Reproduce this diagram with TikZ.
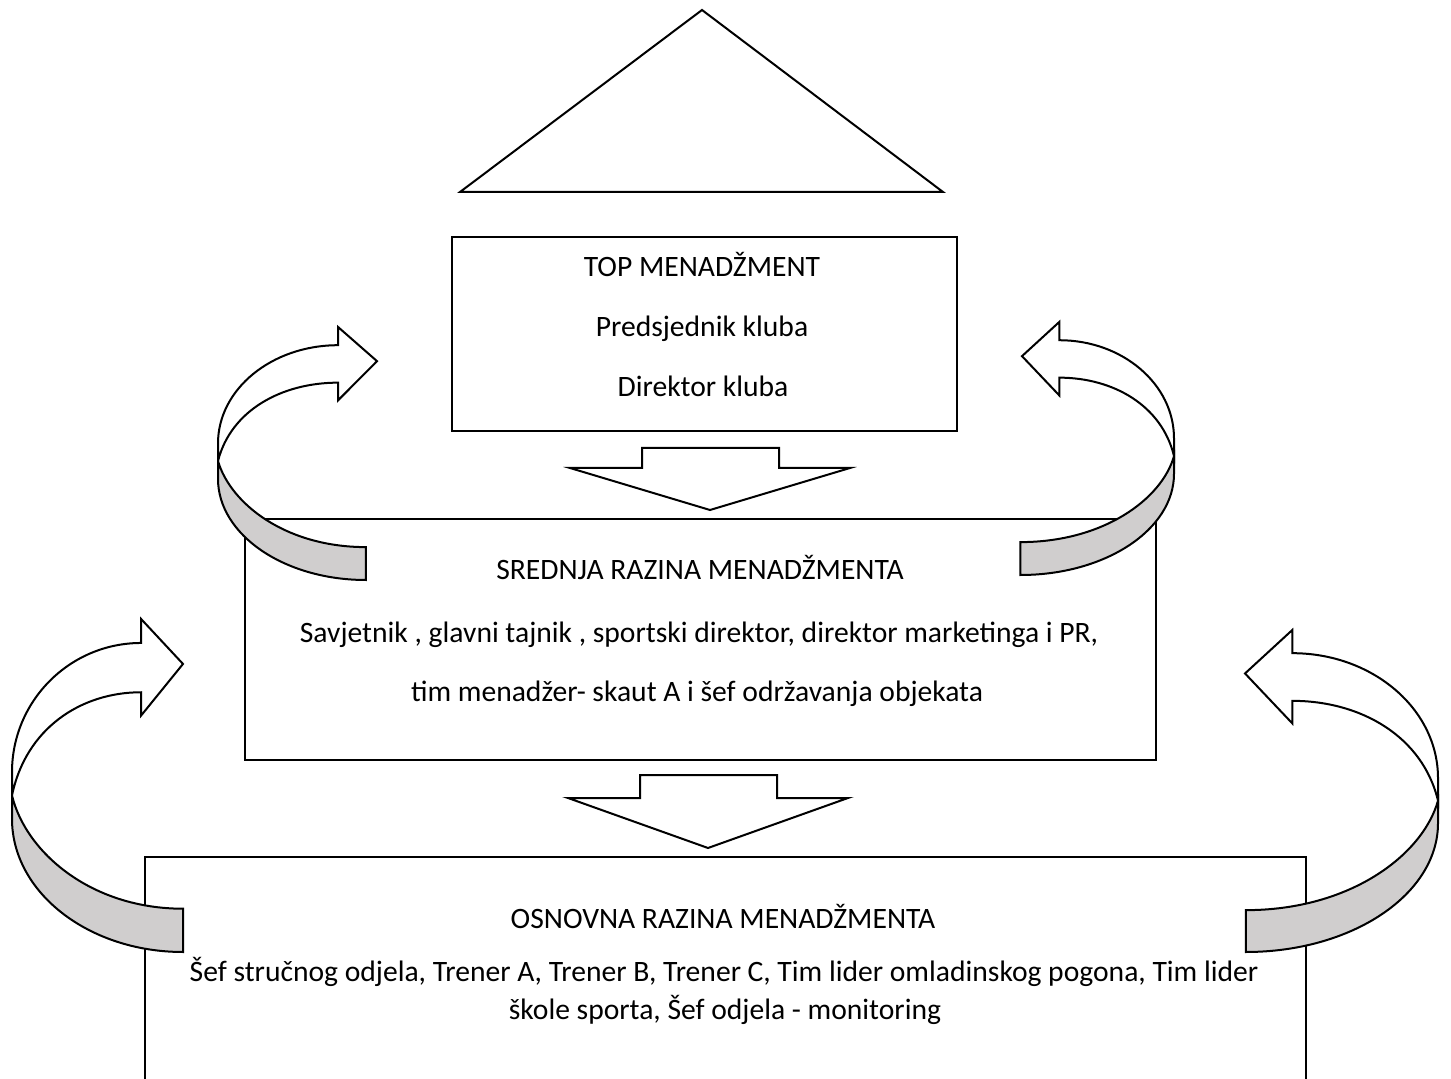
\documentclass[tikz,border=0pt]{standalone}
\usepackage{fontspec}
\setmainfont{Carlito}
\definecolor{ribbon}{RGB}{208,206,206}
\tikzset{
  outline/.style={draw=black, line width=1pt, line join=miter},
  boxnode/.style={outline, rectangle, inner sep=0pt, outer sep=0pt, fill=white},
  lbl/.style={inner sep=0pt, outer sep=0pt, anchor=base, font=\fontsize{14.8}{17.7}\selectfont},
}
% #1 = x of outer edge, #2 = top of head, #3 = signed width to tip, #4 = height, #5 = tail x (relative)
\newcommand\ribbonarrow[5]{%
  \begin{scope}[shift={(#1,#2)}, xscale=#3, yscale=#4]
    \filldraw[outline, fill=ribbon] (0,0.53) -- (0,0.6)
      .. controls (0,0.821) and ({0.448*#5},1) .. (#5,1) -- (#5,0.87)
      .. controls ({0.46*#5},0.87) and (0.08,0.70) .. (0,0.53) -- cycle;
    \filldraw[outline, fill=white] (1,0.135) -- (0.755,0) -- (0.755,0.072)
      .. controls (0.338,0.072) and (0,0.246) .. (0,0.46) -- (0,0.53)
      .. controls (0.08,0.33) and (0.40,0.22) .. (0.755,0.22)
      -- (0.755,0.29) -- cycle;
  \end{scope}}
\begin{document}
\begin{tikzpicture}[x=0.5pt, y=-0.5pt]
  \useasboundingbox (0,0) rectangle (1451,1079);
  \clip (0,0) rectangle (1451,1079);

  % pyramid top
  \draw[outline] (702,10) -- (943,192) -- (460,192) -- cycle;

  % boxes
  \node[boxnode, minimum width=252.5pt, minimum height=97pt] (top) at (704.5,334) {};
  \node[boxnode, minimum width=455.5pt, minimum height=120.5pt] (mid) at (700.5,639.5) {};
  \node[boxnode, minimum width=580.5pt, minimum height=121.5pt] (bot) at (725.5,978.5) {};

  % down block arrows
  \filldraw[outline, fill=white] (642,448) -- (779,448) -- (779,468) -- (850,468)
    -- (710,510) -- (570,468) -- (642,468) -- cycle;
  \filldraw[outline, fill=white] (640,775) -- (777,775) -- (777,798) -- (848,798)
    -- (708,848) -- (568,798) -- (640,798) -- cycle;

  % texts
  \node[lbl] (t1) at (702,277) {TOP MENADŽMENT};
  \node[lbl] (t2) at (702,337) {Predsjednik kluba};
  \node[lbl] (t3) at (703,397) {Direktor kluba};
  \node[lbl] (m1) at (700,580) {SREDNJA RAZINA MENADŽMENTA};
  \node[lbl] (m2) at (699,643) {Savjetnik , glavni tajnik , sportski direktor, direktor marketinga i PR,};
  \node[lbl] (m3) at (697,701) {tim menadžer- skaut A i šef održavanja objekata};
  \node[lbl] (b1) at (723,928) {OSNOVNA RAZINA MENADŽMENTA};
  \node[lbl] (b2) at (724,981) {Šef stručnog odjela, Trener A, Trener B, Trener C, Tim lider omladinskog pogona, Tim lider};
  \node[lbl] (b3) at (725,1019) {škole sporta, Šef odjela - monitoring};

  % curved ribbon arrows
  \ribbonarrow{218}{327}{159}{253}{0.93}
  \ribbonarrow{1174}{322}{-152}{253}{1.01}
  \ribbonarrow{12}{619}{171}{333}{1.0}
  \ribbonarrow{1438}{630}{-193}{322}{0.995}
\end{tikzpicture}
\end{document}
